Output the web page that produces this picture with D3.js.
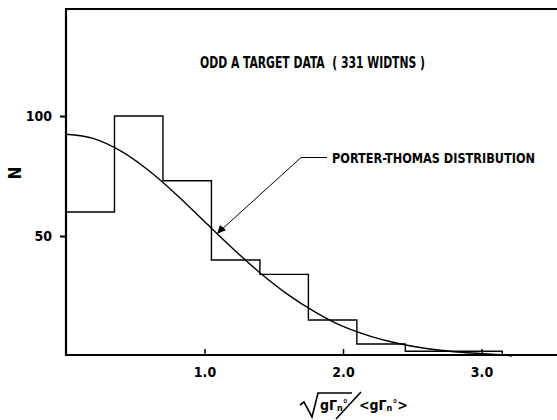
<!DOCTYPE html>
<html>
<head>
<meta charset="utf-8">
<script src="https://cdn.jsdelivr.net/npm/d3@7"></script>
<style>
  html, body { margin: 0; padding: 0; background: #fff; }
  svg { display: block; }
  text { font-family: "Liberation Sans Narrow", "DejaVu Sans Condensed", "Liberation Sans", sans-serif; font-weight: bold; fill: #000; }
</style>
</head>
<body>
<svg id="chart" width="557" height="420"></svg>
<script>
// ---- data ----
const binWidth = 0.35;
const binCounts = [60, 100, 73, 40, 34, 15, 5, 2, 2];           // histogram counts per bin
const curveX = [0, 0.2, 0.4, 0.6, 0.8, 1.0, 1.2, 1.4, 1.6, 1.8, 2.0, 2.2, 2.4, 2.6, 2.8, 3.0, 3.1, 3.2, 3.22];
const curveN = [92.4, 90.6, 85.3, 77.2, 67.1, 56.0, 45.0, 34.7, 25.7, 18.3, 12.3, 8.2, 5.2, 3.1, 1.8, 1.0, 0.6, 0.2, 0];
const xTicks = [1.0, 2.0, 3.0];
const yTicks = [50, 100];
const titleText = "ODD A TARGET DATA  ( 331 WIDTNS )";
const curveLabel = "PORTER-THOMAS DISTRIBUTION";
const yLabel = "N";

const svg = d3.select("#chart");
const x = d3.scaleLinear().domain([0, 3.545]).range([66, 557]);
const y = d3.scaleLinear().domain([0, 144.6]).range([356, 9]);

// frame
svg.append("path")
  .attr("d", `M557,${y(144.6)}H${x(0)}V355H557`)
  .attr("fill", "none").attr("stroke", "#000").attr("stroke-width", 2.2);

// y axis
const yAxis = svg.append("g").attr("transform", `translate(${x(0)},0)`)
  .call(d3.axisLeft(y).tickValues(yTicks).tickSize(6).tickPadding(8).tickFormat(d3.format("d")));
yAxis.select(".domain").remove();
yAxis.selectAll("line").attr("stroke-width", 2);
yAxis.selectAll("text").attr("font-size", 14).attr("font-family", null);

// x axis
const xAxis = svg.append("g").attr("transform", `translate(0,355)`)
  .call(d3.axisBottom(x).tickValues(xTicks).tickSizeInner(-6).tickSizeOuter(0).tickPadding(12).tickFormat(d3.format(".1f")));
xAxis.select(".domain").remove();
xAxis.selectAll("line").attr("stroke-width", 1.5);
xAxis.selectAll("text").attr("font-size", 14).attr("font-family", null);

// histogram
const histPts = binCounts.map((c, i) => [i * binWidth, c]);
histPts.push([binCounts.length * binWidth, 0]);
svg.append("path")
  .datum(histPts)
  .attr("d", d3.line().x(d => x(d[0])).y(d => y(d[1])).curve(d3.curveStepAfter))
  .attr("fill", "none").attr("stroke", "#000").attr("stroke-width", 1.4);

// Porter-Thomas curve
svg.append("path")
  .datum(curveX.map((v, i) => [v, curveN[i]]))
  .attr("d", d3.line().x(d => x(d[0])).y(d => y(d[1])).curve(d3.curveMonotoneX))
  .attr("fill", "none").attr("stroke", "#000").attr("stroke-width", 1.4);

// title
svg.append("text").attr("x", 200).attr("y", 68).attr("font-size", 15)
  .style("white-space", "pre")
  .attr("textLength", 225).attr("lengthAdjust", "spacingAndGlyphs").text(titleText);

// annotation + leader arrow
svg.append("text").attr("x", 332).attr("y", 163).attr("font-size", 14)
  .attr("textLength", 203).attr("lengthAdjust", "spacingAndGlyphs").text(curveLabel);
svg.append("path").attr("d", "M327,157.5H301L220,231")
  .attr("fill", "none").attr("stroke", "#000").attr("stroke-width", 1);
svg.append("path").attr("d", "M217,234L220,225L226,230Z").attr("fill", "#000");

// y label
svg.append("text").attr("transform", "translate(21,173) rotate(-90)")
  .attr("text-anchor", "middle").attr("font-size", 17).text(yLabel);

// x label: sqrt(gΓn°) / <gΓn°>
const xl = svg.append("g");
xl.append("path").attr("d", "M300,405L304,402L312,417L318,393H352")
  .attr("fill", "none").attr("stroke", "#000").attr("stroke-width", 1.6);
const t1 = xl.append("text").attr("x", 320).attr("y", 410).attr("font-size", 14);
t1.append("tspan").text("gΓ");
t1.append("tspan").attr("font-size", 9).attr("dy", 1).text("n");
t1.append("tspan").attr("font-size", 11).attr("dy", -4).text("°");
xl.append("path").attr("d", "M361,392L336,419").attr("stroke", "#000").attr("stroke-width", 1.6);
const t2 = xl.append("text").attr("x", 359).attr("y", 410).attr("font-size", 14);
t2.append("tspan").text("<gΓ");
t2.append("tspan").attr("font-size", 9).attr("dy", 1).text("n");
t2.append("tspan").attr("font-size", 11).attr("dy", -4).text("°");
t2.append("tspan").attr("dy", 3).text(">");
</script>
</body>
</html>
